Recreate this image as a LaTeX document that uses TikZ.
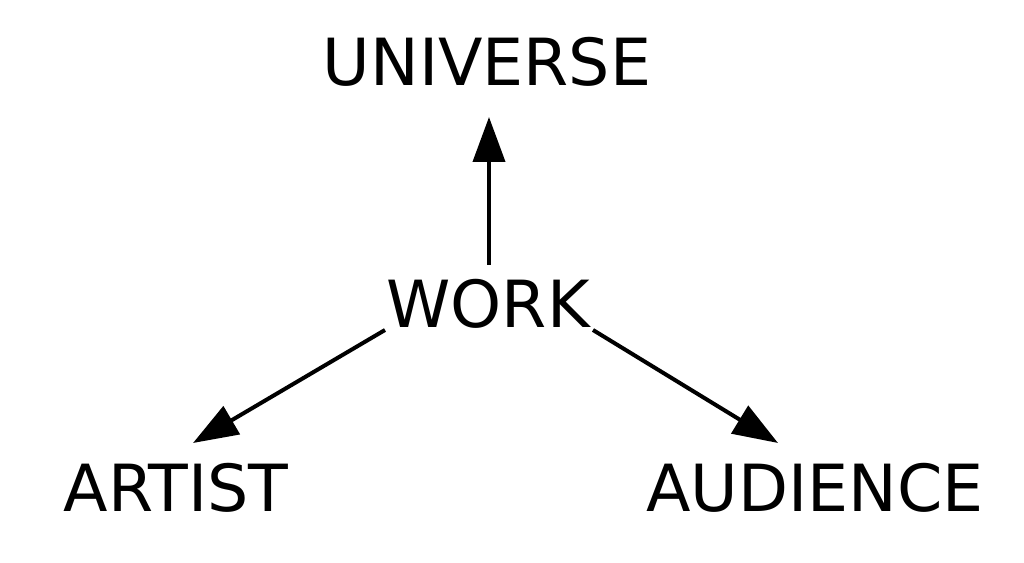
\documentclass[tikz,border=0pt]{standalone}
\usepackage{fontspec}
\setmainfont{DejaVu Sans}
\usetikzlibrary{arrows.meta}
\begin{document}
\begin{tikzpicture}[x=1pt,y=1pt,
  lbl/.style={inner sep=0pt,anchor=base,font=\fontsize{65}{70}\selectfont},
  arr/.style={line width=4pt,-{Triangle[length=45pt,width=32pt]}}]
\useasboundingbox (0,0) rectangle (1024,562);
\node[lbl] (universe) at (487,476) {UNIVERSE};
\node[lbl] (work) at (488,234) {WORK};
\node[lbl] (artist) at (176,51) {ARTIST};
\node[lbl] (audience) at (815,51) {AUDIENCE};
\coordinate (wu) at (489,297);
\coordinate (uw) at (489,445);
\coordinate (wl) at (385,232);
\coordinate (lw) at (193,119);
\coordinate (wr) at (593,232);
\coordinate (rw) at (778,119);
\draw[arr] (wu) -- (uw);
\draw[arr] (wl) -- (lw);
\draw[arr] (wr) -- (rw);
\end{tikzpicture}
\end{document}
